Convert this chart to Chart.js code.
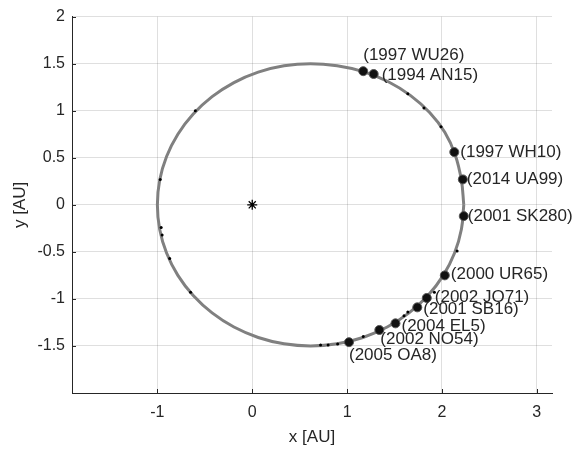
<!DOCTYPE html>
<html>
<head>
<meta charset="utf-8">
<script src="https://cdn.jsdelivr.net/npm/chart.js@4"></script>
<style>
	html, body { margin: 0; padding: 0; background: #fff; }
	#wrap { width: 575px; height: 451px; }
</style>
</head>
<body>
<div id="wrap"><canvas id="orbitChart" width="575" height="451"></canvas></div>
<script>
// orbit trace (AU)
const orbitX = [2.23, 2.205, 2.14, 2.03, 1.87, 1.67, 1.43, 1.17, 0.895, 0.615, 0.335, 0.063, -0.193, -0.423, -0.622, -0.784, -0.903, -0.976, -1.0, -0.976, -0.903, -0.784, -0.622, -0.423, -0.193, 0.063, 0.335, 0.615, 0.895, 1.167, 1.423, 1.653, 1.852, 2.014, 2.133, 2.205, 2.23];
const orbitY = [0, 0.26, 0.53, 0.77, 0.98, 1.16, 1.31, 1.415, 1.477, 1.5, 1.477, 1.41, 1.299, 1.149, 0.964, 0.75, 0.513, 0.26, 0, -0.26, -0.513, -0.75, -0.964, -1.149, -1.299, -1.41, -1.477, -1.5, -1.477, -1.41, -1.299, -1.149, -0.964, -0.75, -0.513, -0.26, 0];

// labelled objects
const names = ['(1997 WU26)', '(1994 AN15)', '(1997 WH10)', '(2014 UA99)', '(2001 SK280)', '(2000 UR65)', '(2002 JO71)', '(2001 SB16)', '(2004 EL5)', '(2002 NO54)', '(2005 OA8)'];
const namedX = [1.17, 1.28, 2.13, 2.22, 2.23, 2.03, 1.84, 1.74, 1.51, 1.34, 1.02];
const namedY = [1.42, 1.39, 0.56, 0.27, -0.12, -0.75, -0.99, -1.09, -1.26, -1.33, -1.46];

// unlabelled small marks on the orbit
const minorX = [-0.6, -0.97, -0.96, -0.95, -0.87, -0.65, 1.64, 1.81, 1.99, 2.16, 1.92, 1.64, 1.6, 1.17, 0.9, 0.8, 0.72];
const minorY = [1.0, 0.27, -0.24, -0.32, -0.57, -0.93, 1.18, 1.03, 0.83, -0.49, -0.93, -1.14, -1.18, -1.40, -1.48, -1.49, -1.49];

const sunX = [0];
const sunY = [0];

const xTicks = [-1, 0, 1, 2, 3];
const yTicks = [-1.5, -1, -0.5, 0, 0.5, 1, 1.5, 2];

// text placement relative to each point, px
const labelNudge = [[0, -16], [8, 1], [6, 0], [4, 0], [4, 0], [6, -1], [8, -1], [6, 2], [6, 3], [1, 9], [0, 13]];

const FONT = "'Liberation Sans', Arial, sans-serif";
const INK = '#262626';
const GRID = 'rgba(38,38,38,0.15)';

const pts = (xs, ys) => xs.map((v, i) => ({ x: v, y: ys[i] }));

const orbitText = {
	id: 'orbitText',
	afterDatasetsDraw(chart) {
		const { ctx, scales: { x, y } } = chart;
		ctx.save();
		ctx.font = `17px ${FONT}`;
		ctx.fillStyle = INK;
		ctx.textAlign = 'left';
		ctx.textBaseline = 'middle';
		names.forEach((n, i) => {
			const [dx, dy] = labelNudge[i];
			ctx.fillText(n, x.getPixelForValue(namedX[i]) + dx, y.getPixelForValue(namedY[i]) + dy);
		});
		ctx.restore();
	},
	afterDraw(chart) {
		const { ctx, chartArea: a, scales: { x, y } } = chart;
		ctx.save();
		// inward ticks, matlab style
		ctx.strokeStyle = INK;
		ctx.lineWidth = 1;
		ctx.beginPath();
		xTicks.forEach(v => {
			const px = Math.round(x.getPixelForValue(v)) + 0.5;
			ctx.moveTo(px, a.bottom); ctx.lineTo(px, a.bottom - 4);
		});
		yTicks.forEach(v => {
			const py = Math.round(y.getPixelForValue(v)) + 0.5;
			ctx.moveTo(a.left, py); ctx.lineTo(a.left + 4, py);
		});
		ctx.stroke();
		// axis titles
		ctx.fillStyle = INK;
		ctx.font = `17px ${FONT}`;
		ctx.textAlign = 'center';
		ctx.textBaseline = 'middle';
		ctx.fillText('x [AU]', (a.left + a.right) / 2, a.bottom + 44);
		ctx.translate(20, (a.top + a.bottom) / 2);
		ctx.rotate(-Math.PI / 2);
		ctx.fillText('y [AU]', 0, 0);
		ctx.restore();
	}
};

const axis = (min, max, ticks) => ({
	type: 'linear',
	min, max,
	afterBuildTicks: s => { s.ticks = ticks.map(v => ({ value: v })); },
	grid: { color: GRID, drawTicks: false },
	border: { color: INK, width: 1 },
	ticks: { color: INK, font: { family: FONT, size: 16 }, callback: v => String(v) }
});

const xScale = axis(-1.9, 3.16, xTicks);
xScale.afterFit = s => { s.height = 58; };
xScale.ticks.padding = 10;
const yScale = axis(-2, 2, yTicks);
yScale.afterFit = s => { s.width = 72; };
yScale.ticks.padding = 7;

new Chart(document.getElementById('orbitChart'), {
	type: 'scatter',
	data: {
		datasets: [
			{ label: 'sun', data: pts(sunX, sunY), pointStyle: 'star', pointRadius: 5, borderColor: '#000', borderWidth: 1.3, order: 0 },
			{ label: 'named', data: pts(namedX, namedY), pointRadius: 4.5, backgroundColor: '#111', borderColor: '#555', borderWidth: 1, order: 1 },
			{ label: 'minor', data: pts(minorX, minorY), pointRadius: 1.5, backgroundColor: '#000', borderWidth: 0, order: 2 },
			{ label: 'orbit', data: pts(orbitX, orbitY), showLine: true, borderColor: '#808080', borderWidth: 3, pointRadius: 0, tension: 0.4, order: 3 }
		]
	},
	options: {
		responsive: false,
		animation: false,
		devicePixelRatio: 1,
		layout: { padding: { top: 13, right: 23, left: 0, bottom: 0 } },
		plugins: { legend: { display: false }, tooltip: { enabled: false } },
		scales: { x: xScale, y: yScale }
	},
	plugins: [orbitText]
});
</script>
</body>
</html>
